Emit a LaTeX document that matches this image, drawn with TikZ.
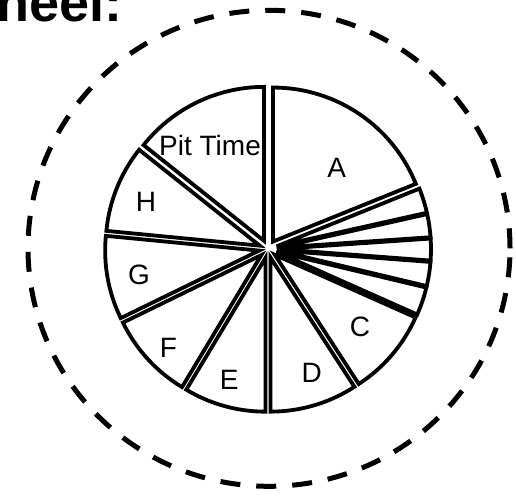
\documentclass[tikz,border=0pt]{standalone}
\usepackage{fontspec}
\setmainfont{Liberation Sans}
\usetikzlibrary{calc}
\tikzset{
  wedge/.style={draw=black,line width=3.8pt,fill=white,line join=miter},
  rim/.style={draw=black,line width=5pt,dash pattern=on 20pt off 16pt},
  slab/.style={inner sep=0pt,font=\fontsize{28}{30}\selectfont},
  headline/.style={inner sep=0pt,font=\fontsize{54}{58}\selectfont\bfseries},
}
\newcommand{\pierad}{154pt}
\newcommand{\pieoff}{9pt}

\begin{document}
\begin{tikzpicture}[x=1pt,y=1pt]
  \useasboundingbox (0,0) rectangle (516,496);
  \coordinate (hub) at (268,247);
  \draw[rim] (269,247.7) ellipse[x radius=241,y radius=238];
  % exploded pie, one wedge per slice (start/end angle)
  \foreach \s/\e in {141.5/90,90/22,22/12.6,12.6/3.9,3.9/-4.3,-4.3/-13.4,-13.4/-24,
      -24/-57,-57/-90,-90/-121,-121/-154,-154/-185.5,-185.5/-218.5}{
    \pgfmathsetmacro{\m}{(\s+\e)/2}
    \draw[wedge] ($(hub)+(\m:\pieoff)$) -- ++(\s:\pierad)
      arc[start angle=\s,end angle=\e,radius=\pierad] -- cycle;
  }
  \node[slab] (pit) at (210,351) {Pit Time};
  \node[slab] (a) at (336.7,327.7) {A};
  \node[slab] (c) at (360,169.3) {C};
  \node[slab] (d) at (311.7,122.7) {D};
  \node[slab] (e) at (229.3,116) {E};
  \node[slab] (f) at (168.3,147.7) {F};
  \node[slab] (g) at (139,221) {G};
  \node[slab] (h) at (146,294.3) {H};
  \node[headline,anchor=base west] (title) at (-4,474) {heel:};
\end{tikzpicture}
\end{document}
